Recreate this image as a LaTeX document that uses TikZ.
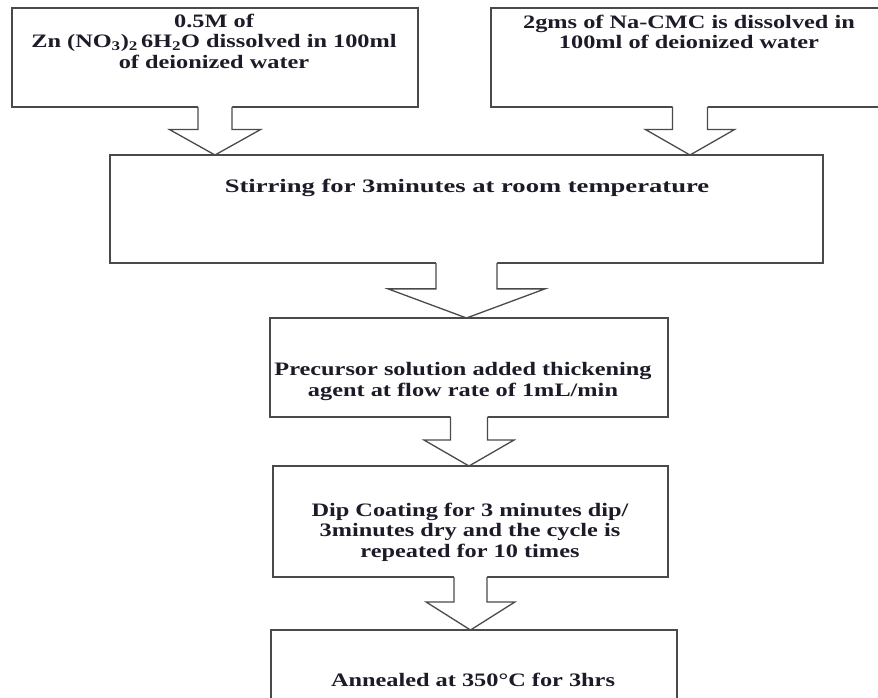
\documentclass[tikz,border=0pt]{standalone}
\usepackage{fontspec}
\setmainfont[FakeStretch=1.28]{Liberation Serif}
\newfontfamily\widefont[FakeStretch=1.4]{Liberation Serif}
\usetikzlibrary{calc}
\definecolor{linegray}{HTML}{4A4A4A}
\definecolor{inkdark}{HTML}{1C1C28}
\tikzset{
  box/.style={rectangle,draw=linegray,line width=1.3pt,fill=white,inner sep=0pt,outer sep=0pt},
  txt/.style={align=center,text=inkdark,font=\fontsize{19}{20.5}\selectfont\bfseries,inner sep=0pt},
  hollow/.style={draw=linegray,line width=1.3pt,line join=miter}
}
% hollow block arrow: from, to, half shaft width, half head width
\newcommand{\blockarrow}[4]{%
  \path[fill=white] let \p1=(#1), \p2=(#2), \p3=($(#1)!0.47!(#2)$) in
    (\x1-#3pt,\y1+1.5pt) -- (\x1-#3pt,\y3) -- (\x1-#4pt,\y3) -- (\x2,\y2)
    -- (\x1+#4pt,\y3) -- (\x1+#3pt,\y3) -- (\x1+#3pt,\y1+1.5pt) -- cycle;
  \path[hollow] let \p1=(#1), \p2=(#2), \p3=($(#1)!0.47!(#2)$) in
    (\x1-#3pt,\y1) -- (\x1-#3pt,\y3) -- (\x1-#4pt,\y3) -- (\x2,\y2)
    -- (\x1+#4pt,\y3) -- (\x1+#3pt,\y3) -- (\x1+#3pt,\y1);
}

\begin{document}
\begin{tikzpicture}[x=1pt,y=-1pt]
\useasboundingbox (0,0) rectangle (878,697);
\fill[white] (0,0) rectangle (878,697);
\clip (0,0) rectangle (878,697);

\node[box, minimum width=406, minimum height=99] (a) at (215,57.5) {};
\node[box, minimum width=398, minimum height=99] (b) at (690,57.5) {};
\node[box, minimum width=713, minimum height=108] (c) at (466.5,209) {};
\node[box, minimum width=398, minimum height=99] (d) at (469,367.5) {};
\node[box, minimum width=395, minimum height=111] (e) at (470.5,521.5) {};
\node[box, minimum width=406, minimum height=104] (f) at (474,682) {};

\node[txt] (at) at (214,41) {0.5M of\\Zn (NO\textsubscript{3})\textsubscript{2}\,6H\textsubscript{2}O dissolved in 100ml\\of deionized water};
\node[txt] (bt) at (689,32) {2gms of Na-CMC is dissolved in\\100ml of deionized water};
\node[txt] (ct) at (467,188) {\widefont Stirring for 3minutes at room temperature};
\node[txt] (dt) at (463,381.5) {Precursor solution added thickening\\agent at flow rate of 1mL/min};
\node[txt] (et) at (470,532) {Dip Coating for 3 minutes dip/\\3minutes dry and the cycle is\\repeated for 10 times};
\node[txt] (ft) at (473,680) {Annealed at 350°C for 3hrs};

\blockarrow{a.south}{a.south |- c.north}{17}{45.5}
\blockarrow{b.south}{b.south |- c.north}{17.5}{44.5}
\blockarrow{c.south}{c.south |- d.north}{30.5}{78.5}
\blockarrow{d.south}{d.south |- e.north}{18.5}{45}
\blockarrow{e.south}{e.south |- f.north}{16.5}{44.5}
\end{tikzpicture}
\end{document}
